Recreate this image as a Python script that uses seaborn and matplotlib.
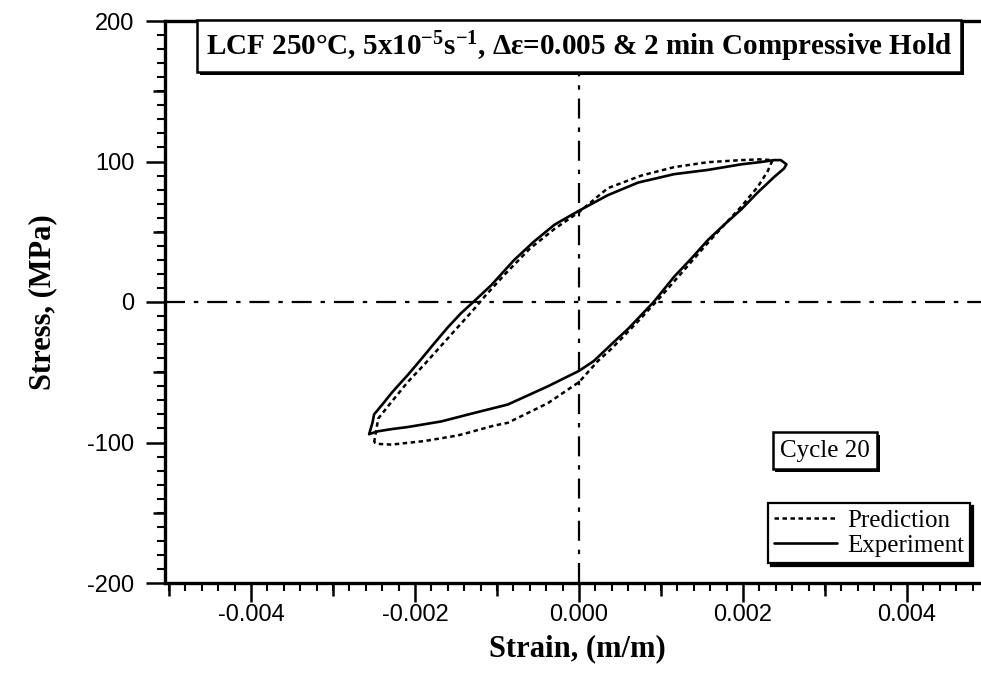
import numpy as np
import pandas as pd
import matplotlib
matplotlib.use("Agg")
import matplotlib.pyplot as plt
import matplotlib.patheffects as pe
import seaborn as sns

# ---------------- data (strain in m/m, stress in MPa) ----------------
exp_strain = [-2.56e-3, -2.52e-3, -2.50e-3, -2.40e-3, -2.29e-3, -2.23e-3, -2.09e-3, -1.93e-3,
              -1.76e-3, -1.60e-3, -1.44e-3, -1.29e-3, -1.07e-3, -0.79e-3, -0.55e-3, -0.30e-3,
              0.0, 0.35e-3, 0.72e-3, 1.16e-3, 1.57e-3, 1.98e-3, 2.20e-3, 2.38e-3, 2.46e-3, 2.53e-3,
              2.50e-3, 2.38e-3, 2.18e-3, 1.98e-3, 1.77e-3, 1.57e-3, 1.37e-3, 1.16e-3, 0.91e-3,
              0.60e-3, 0.47e-3, 0.18e-3, 0.0, -0.38e-3, -0.87e-3, -1.28e-3, -1.68e-3, -2.09e-3,
              -2.29e-3, -2.45e-3, -2.56e-3]
exp_stress = [-94, -86, -80, -73, -65, -61, -52, -41,
              -29, -18, -8, 0, 12, 30, 43, 55,
              65, 76, 85, 91, 94, 98, 99.5, 101, 101, 98,
              95, 89, 78, 66, 55, 44, 31, 18, 0,
              -19, -26, -42, -49, -60, -73, -79, -85, -89,
              -90.5, -92, -94]

pred_strain = [-2.50e-3, -2.47e-3, -2.45e-3, -2.30e-3, -2.09e-3, -1.88e-3, -1.68e-3, -1.48e-3,
               -1.28e-3, -1.15e-3, -0.90e-3, -0.60e-3, -0.30e-3, 0.0, 0.35e-3, 0.76e-3, 1.16e-3,
               1.57e-3, 1.98e-3, 2.20e-3, 2.36e-3,
               2.30e-3, 2.18e-3, 1.98e-3, 1.82e-3, 1.57e-3, 1.30e-3, 1.00e-3, 0.70e-3, 0.40e-3,
               0.23e-3, 0.0, -0.38e-3, -0.87e-3, -1.04e-3, -1.35e-3, -1.48e-3, -1.89e-3,
               -2.29e-3, -2.45e-3, -2.50e-3]
pred_stress = [-100, -90, -83, -72, -57, -44, -31, -18,
               -5, 4, 20, 38, 52, 64, 81, 90, 96,
               99.5, 101, 101.5, 101,
               93, 82, 68, 58, 42, 24, 4, -15, -33,
               -42, -57, -72, -86, -88, -93, -95, -99,
               -101.5, -101, -100]

x_major = [-0.004, -0.002, 0.0, 0.002, 0.004]
x_major_labels = ["-0.004", "-0.002", "0.000", "0.002", "0.004"]
x_mid = [-0.005, -0.003, -0.001, 0.001, 0.003, 0.005]
y_major = [-200, -100, 0, 100, 200]
y_major_labels = ["-200", "-100", "0", "100", "200"]
y_mid = [-150, -50, 50, 150]

title_text = "LCF 250°C, 5x10$^{\\mathbf{-5}}$s$^{\\mathbf{-1}}$, Δε=0.005 & 2 min Compressive Hold"
cycle_text = "Cycle 20"
xlabel_text = "Strain, (m/m)"
ylabel_text = "Stress, (MPa)"

# ---------------- style ----------------
sns.set_theme(style="ticks")
plt.rcParams["font.family"] = ["Liberation Sans", "DejaVu Sans"]
plt.rcParams["mathtext.fontset"] = "custom"
plt.rcParams["mathtext.rm"] = "Liberation Serif"
plt.rcParams["mathtext.bf"] = "Liberation Serif:bold"
plt.rcParams["mathtext.it"] = "Liberation Serif:italic"
plt.rcParams["axes.unicode_minus"] = False

W, H = 981, 681
fig = plt.figure(figsize=(W / 100, H / 100), dpi=100)
ax = fig.add_axes([165 / W, (H - 583) / H, 824 / W, 562 / H])
ax.set_facecolor("white")

# reference dash-dot lines
ax.axhline(0, color="black", lw=1.6, dashes=(9, 4, 2, 4), zorder=1)
ax.axvline(0, color="black", lw=1.6, dashes=(9, 4, 2, 4), zorder=1)

sns.lineplot(x=pred_strain, y=pred_stress, sort=False, estimator=None, ax=ax,
             color="black", lw=1.8, dashes=False, label="Prediction")
ax.lines[-1].set_dashes((1.8, 1.4))
sns.lineplot(x=exp_strain, y=exp_stress, sort=False, estimator=None, ax=ax,
             color="black", lw=1.9, label="Experiment")

ax.set_xlim(-0.00505, 0.0050)
ax.set_ylim(-200, 200)

# spines
for s in ["left", "bottom", "top"]:
    ax.spines[s].set_linewidth(2.4)
    ax.spines[s].set_color("black")
ax.spines["right"].set_visible(False)

# ticks
ax.set_xticks(x_major)
ax.set_xticklabels(x_major_labels)
ax.set_yticks(y_major)
ax.set_yticklabels(y_major_labels)
ax.xaxis.set_minor_locator(matplotlib.ticker.MultipleLocator(0.0002))
ax.yaxis.set_minor_locator(matplotlib.ticker.MultipleLocator(10))
ax.tick_params(axis="both", which="major", direction="out", length=14, width=1.8,
               color="black", labelsize=17, labelcolor="black")
ax.tick_params(axis="x", which="major", pad=1)
ax.tick_params(axis="y", which="major", pad=8)
ax.tick_params(axis="both", which="minor", direction="out", length=5.5, width=1.5, color="black")
ax.tick_params(top=False, right=False, which="both")

secx = ax.secondary_xaxis("bottom")
secx.set_xticks(x_mid)
secx.tick_params(direction="out", length=9, width=1.8, color="black", labelbottom=False)
secx.spines["bottom"].set_visible(False)
secy = ax.secondary_yaxis("left")
secy.set_yticks(y_mid)
secy.tick_params(direction="out", length=9, width=1.8, color="black", labelleft=False)
secy.spines["left"].set_visible(False)

ax.set_xlabel(xlabel_text, family="Liberation Serif", fontweight="bold", fontsize=22,
              labelpad=6, color="black")
ax.set_ylabel(ylabel_text, family="Liberation Serif", fontweight="bold", fontsize=22,
              labelpad=22, color="black")

shadow = [pe.SimplePatchShadow(offset=(2, -2), shadow_rgbFace="black", alpha=1), pe.Normal()]

t = ax.text(0.0, 182, title_text, ha="center", va="center", family="Liberation Serif",
            fontweight="bold", fontsize=21, color="black",
            bbox=dict(boxstyle="square,pad=0.3", fc="white", ec="black", lw=1.8))
t.get_bbox_patch().set_path_effects(shadow)

c = ax.text(0.0030, -106, cycle_text, ha="center", va="center", family="Liberation Serif",
            fontsize=18, color="black",
            bbox=dict(boxstyle="square,pad=0.3", fc="white", ec="black", lw=1.8))
c.get_bbox_patch().set_path_effects(shadow)

leg = ax.legend(loc="lower right", bbox_to_anchor=(0.977, 0.036), borderaxespad=0,
                frameon=True, fancybox=False, shadow={"color": "black", "alpha": 1},
                prop={"family": "Liberation Serif", "size": 18}, handlelength=2.5,
                handletextpad=0.4, labelspacing=0.1, borderpad=0.25)
leg.get_frame().set_edgecolor("black")
leg.get_frame().set_linewidth(1.6)
leg.get_frame().set_alpha(1)
for txt in leg.get_texts():
    txt.set_color("black")

fig.savefig("out.png", dpi=100, facecolor="white")
